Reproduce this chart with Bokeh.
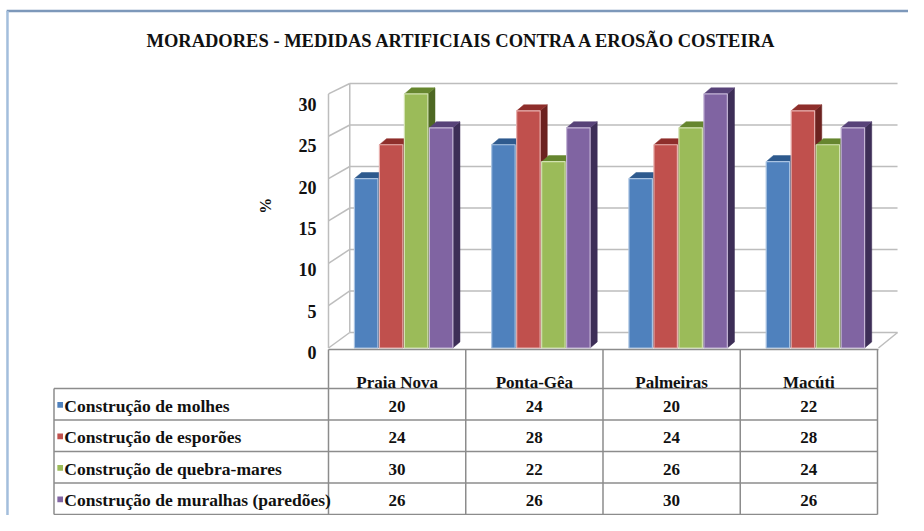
from bokeh.plotting import figure
from bokeh.models import Range1d, Label
from bokeh.embed import file_html
from bokeh.resources import INLINE
import math

# ---------------- data ----------------
title_text = "MORADORES - MEDIDAS ARTIFICIAIS CONTRA A EROSÃO COSTEIRA"
categories = ["Praia Nova", "Ponta-Gêa", "Palmeiras", "Macúti"]
series_names = [
    "Construção de molhes",
    "Construção de esporões",
    "Construção de quebra-mares",
    "Construção de muralhas (paredões)",
]
molhes = [20, 24, 20, 22]
esporoes = [24, 28, 24, 28]
quebra_mares = [30, 22, 26, 24]
muralhas = [26, 26, 30, 26]
y_ticks = [0, 5, 10, 15, 20, 25, 30]
y_label = "%"

series_values = [molhes, esporoes, quebra_mares, muralhas]

# ---------------- styles ----------------
front_col = ["#4F81BD", "#C0504D", "#9BBB59", "#8064A2"]
top_col = ["#2E5A8E", "#8E2E2B", "#66862F", "#584379"]
side_col = ["#23456D", "#6C2220", "#4E6823", "#3D2E57"]
edge_col = ["#A9C3E2", "#E8AFAD", "#D2E2B0", "#C4B5D6"]
GRID = "#BDBDBD"
TBL = "#8C8C8C"
FONT = "Liberation Serif"

# layout constants: x in category units (category i spans [X0+i, X0+i+1]),
# y in value units; table rows on a second range (row r spans [T0+r, T0+r+1])
X0 = 3.0
T0 = 13.0
BAR_START = 0.189
BAR_PITCH = 0.182
BAR_W = 0.171
BAR_DX = 0.052
BAR_DY = 0.72
WALL_DX = 0.155
WALL_B0 = 1.83
WALL_K = 0.98
FLOOR_R = 4.007
HEAD_TOP = -1.238


def back(v):
    return WALL_B0 + WALL_K * v


p = figure(
    width=908, height=515, output_backend="svg", toolbar_location=None,
    x_range=Range1d(X0 - 2.3898, X0 + 4.2259), y_range=Range1d(-19.78, 41.03),
    min_border=0, outline_line_color=None,
)
p.extra_y_ranges = {"tbl": Range1d(T0 + 4.032, T0 - 12.317)}
p.axis.visible = False
p.grid.visible = False

n_rows = len(series_names)
n_cat = len(categories)


def label(x, y, text, size, align="center", angle=0.0, rng="default"):
    p.add_layout(Label(x=x, y=y, text=text, text_font=FONT, text_font_style="bold",
                       text_font_size=size, text_align=align, text_baseline="middle",
                       text_color="#111111", angle=angle, y_range_name=rng))


# ---------------- frame ----------------
p.segment(x0=[X0 - 2.345], y0=[39.79], x1=[X0 + 4.2259], y1=[39.79],
          line_color="#7D98BA", line_width=2.5)
p.segment(x0=[X0 - 2.339], y0=[39.79], x1=[X0 - 2.339], y1=[-19.78],
          line_color="#A3BEDC", line_width=2.5)

# walls: back wall gridlines, left wall diagonals, edges
p.segment(x0=[X0 + WALL_DX] * len(y_ticks), y0=[back(v) for v in y_ticks],
          x1=[X0 + FLOOR_R + 0.139] * len(y_ticks), y1=[back(v) for v in y_ticks],
          line_color=GRID, line_width=1.5)
p.segment(x0=[X0] * len(y_ticks), y0=y_ticks,
          x1=[X0 + WALL_DX] * len(y_ticks), y1=[back(v) for v in y_ticks],
          line_color=GRID, line_width=1.5)
p.segment(x0=[X0, X0 + WALL_DX, X0 + FLOOR_R], y0=[0, back(0), 0],
          x1=[X0, X0 + WALL_DX, X0 + FLOOR_R + 0.139],
          y1=[y_ticks[-1], back(y_ticks[-1]), back(0)],
          line_color=GRID, line_width=1.5)

# ---------------- bars ----------------
fx0, fx1, fy1, fc, fe = [], [], [], [], []
sx, sy, sc = [], [], []
tx, ty, tc = [], [], []
for i in range(n_cat):
    for s, vals in enumerate(series_values):
        v = vals[i]
        x0 = X0 + i + BAR_START + s * BAR_PITCH
        x1 = x0 + BAR_W
        fx0.append(x0); fx1.append(x1); fy1.append(v)
        fc.append(front_col[s]); fe.append(edge_col[s])
        sx.append([x1, x1 + BAR_DX, x1 + BAR_DX, x1])
        sy.append([0, BAR_DY, v + BAR_DY, v])
        sc.append(side_col[s])
        tx.append([x0, x1, x1 + BAR_DX, x0 + BAR_DX])
        ty.append([v, v, v + BAR_DY, v + BAR_DY])
        tc.append(top_col[s])

p.patches(xs=sx, ys=sy, fill_color=sc, line_color=sc, line_width=0.5)
p.patches(xs=tx, ys=ty, fill_color=tc, line_color=tc, line_width=0.5)
p.quad(left=fx0, right=fx1, bottom=[0] * len(fx0), top=fy1,
       fill_color=fc, line_color=fe, line_width=1.2)

# ---------------- data table grid ----------------
p.segment(x0=[X0 - 2.0] * (n_rows + 1), y0=[T0 + r for r in range(n_rows + 1)],
          x1=[X0 + n_cat] * (n_rows + 1), y1=[T0 + r for r in range(n_rows + 1)],
          line_color=TBL, line_width=1.5, y_range_name="tbl")
p.segment(x0=[X0], y0=[T0 + HEAD_TOP], x1=[X0 + FLOOR_R], y1=[T0 + HEAD_TOP],
          line_color=TBL, line_width=1.5, y_range_name="tbl")
p.segment(x0=[X0 - 2.0], y0=[T0], x1=[X0 - 2.0], y1=[T0 + n_rows],
          line_color=TBL, line_width=1.5, y_range_name="tbl")
p.segment(x0=[X0 + c for c in range(n_cat + 1)], y0=[T0 + HEAD_TOP] * (n_cat + 1),
          x1=[X0 + c for c in range(n_cat + 1)], y1=[T0 + n_rows] * (n_cat + 1),
          line_color=TBL, line_width=1.5, y_range_name="tbl")

# legend keys in the table
p.quad(left=[X0 - 1.9755] * n_rows, right=[X0 - 1.9345] * n_rows,
       top=[T0 + r + 0.43 for r in range(n_rows)], bottom=[T0 + r + 0.61 for r in range(n_rows)],
       fill_color=front_col, line_color=None, y_range_name="tbl")

# ---------------- texts (annotations) ----------------
label(X0 + 0.976, 36.19, title_text, "18.5px")
for v in y_ticks:
    label(X0 - 0.087, -0.53 + 0.976 * v, str(v), "18px", align="right")
label(X0 - 0.459, 16.8, y_label, "16px", angle=math.pi / 2)
for i, c in enumerate(categories):
    label(X0 + i + 0.5, T0 - 0.2, c, "17px", rng="tbl")
for r, vals in enumerate(series_values):
    for i, v in enumerate(vals):
        label(X0 + i + 0.5, T0 + r + 0.56, str(v), "17px", rng="tbl")
for r, name in enumerate(series_names):
    label(X0 - 1.925, T0 + r + 0.54, name, "17.5px", align="left", rng="tbl")

open("out.html", "w").write(file_html(p, INLINE))
